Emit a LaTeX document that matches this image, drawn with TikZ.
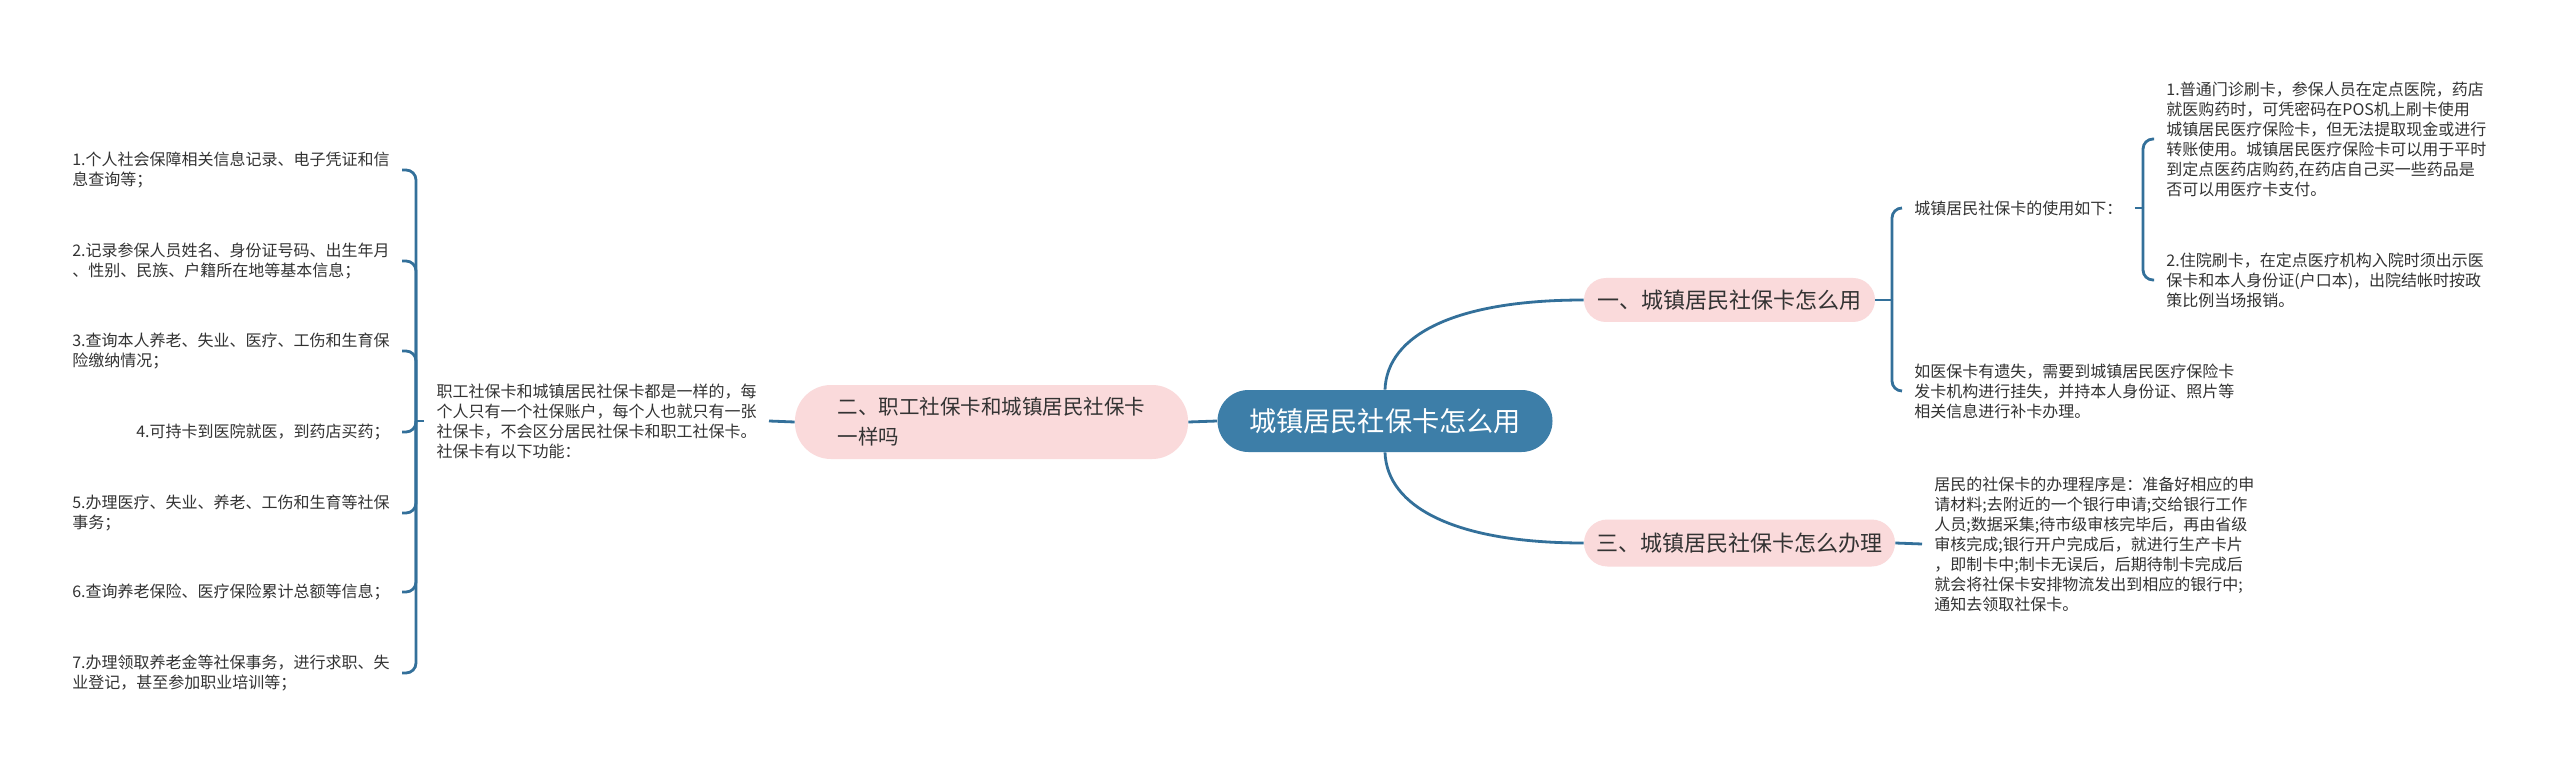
\documentclass[tikz,border=0pt]{standalone}
\usepackage{fontspec}
\setmainfont{Noto Sans CJK SC}
\definecolor{lineblue}{HTML}{33709A}
\definecolor{centerblue}{HTML}{3D7EA8}
\definecolor{branchpink}{HTML}{FADADB}
\definecolor{txtdark}{HTML}{333333}
\begin{document}
\begin{tikzpicture}[x=0.5pt,y=-0.5pt,
  conn/.style={draw=lineblue,line width=1.4pt},
  brk/.style={draw=lineblue,line width=1.4pt,rounded corners=5pt},
  centernode/.style={fill=centerblue,text=white,rounded corners=15.5pt,minimum width=167.5pt,minimum height=31pt,inner sep=0pt,font=\fontsize{13.6pt}{16pt}\selectfont},
  branchnode/.style={fill=branchpink,text=txtdark,inner sep=0pt,font=\fontsize{11pt}{14pt}\selectfont},
  leaf/.style={text=txtdark,inner xsep=6pt,inner ysep=0pt,align=left,font=\fontsize{8pt}{10pt}\selectfont}
]
\useasboundingbox[fill=white] (0,0) rectangle (2560,770);

% center
\node[centernode] (c) at (1385,421) {城镇居民社保卡怎么用};

% branches
\node[branchnode,rounded corners=11pt,minimum width=145.5pt,minimum height=22pt] (b1) at (1729.5,300) {一、城镇居民社保卡怎么用};
\node[branchnode,rounded corners=11.75pt,minimum width=155.5pt,minimum height=23.5pt] (b3) at (1739.5,543) {三、城镇居民社保卡怎么办理};
\node[branchnode,rounded corners=18pt,minimum width=196.5pt,minimum height=37pt,align=left,font=\fontsize{10.25pt}{15pt}\selectfont] (b2) at (991.5,422) {二、职工社保卡和城镇居民社保卡\\一样吗};

\draw[conn] (c.north) .. controls (1387,335) and (1455,300) .. (b1.west);
\draw[conn] (c.south) .. controls (1387,507) and (1455,543) .. (b3.west);
\draw[conn] (c.west) -- (b2.east);

% left side
\node[leaf,anchor=east] (p2) at (769,421) {职工社保卡和城镇居民社保卡都是一样的，每\\个人只有一个社保账户，每个人也就只有一张\\社保卡，不会区分居民社保卡和职工社保卡。\\社保卡有以下功能：};
\draw[conn] (b2.west) -- (p2.east);
\coordinate (lj) at (416,421);
\draw[conn] (p2.west) -- (lj);

\node[leaf,anchor=east] (l1) at (402,170) {1.个人社会保障相关信息记录、电子凭证和信\\息查询等；};
\node[leaf,anchor=east] (l2) at (402,261) {2.记录参保人员姓名、身份证号码、出生年月\\、性别、民族、户籍所在地等基本信息；};
\node[leaf,anchor=east] (l3) at (402,351) {3.查询本人养老、失业、医疗、工伤和生育保\\险缴纳情况；};
\node[leaf,anchor=east] (l4) at (402,432) {4.可持卡到医院就医，到药店买药；};
\node[leaf,anchor=east] (l5) at (402,513) {5.办理医疗、失业、养老、工伤和生育等社保\\事务；};
\node[leaf,anchor=east] (l6) at (402,592) {6.查询养老保险、医疗保险累计总额等信息；};
\node[leaf,anchor=east] (l7) at (402,673) {7.办理领取养老金等社保事务，进行求职、失\\业登记，甚至参加职业培训等；};
\foreach \n in {l1,l2,l3,l4,l5,l6,l7} {\draw[brk] (lj) |- (\n.east);}

% right side, branch 1
\coordinate (rj1) at (1892,300);
\draw[conn] (b1.east) -- (rj1);
\node[leaf,anchor=west] (u) at (1902,208) {城镇居民社保卡的使用如下：};
\node[leaf,anchor=west] (lost) at (1902,391) {如医保卡有遗失，需要到城镇居民医疗保险卡\\发卡机构进行挂失，并持本人身份证、照片等\\相关信息进行补卡办理。};
\draw[brk] (rj1) |- (u.west);
\draw[brk] (rj1) |- (lost.west);

\coordinate (rj2) at (2143,208);
\draw[conn] (u.east) -- (rj2);
\node[leaf,anchor=west] (u1) at (2154,139) {1.普通门诊刷卡，参保人员在定点医院，药店\\就医购药时，可凭密码在POS机上刷卡使用\\城镇居民医疗保险卡，但无法提取现金或进行\\转账使用。城镇居民医疗保险卡可以用于平时\\到定点医药店购药,在药店自己买一些药品是\\否可以用医疗卡支付。};
\node[leaf,anchor=west] (u2) at (2154,280) {2.住院刷卡，在定点医疗机构入院时须出示医\\保卡和本人身份证(户口本)，出院结帐时按政\\策比例当场报销。};
\draw[brk] (rj2) |- (u1.west);
\draw[brk] (rj2) |- (u2.west);

% right side, branch 3
\node[leaf,anchor=west] (r3) at (1922,544) {居民的社保卡的办理程序是：准备好相应的申\\请材料;去附近的一个银行申请;交给银行工作\\人员;数据采集;待市级审核完毕后，再由省级\\审核完成;银行开户完成后，就进行生产卡片\\，即制卡中;制卡无误后，后期待制卡完成后\\就会将社保卡安排物流发出到相应的银行中;\\通知去领取社保卡。};
\draw[conn] (b3.east) -- (r3.west);
\end{tikzpicture}
\end{document}
